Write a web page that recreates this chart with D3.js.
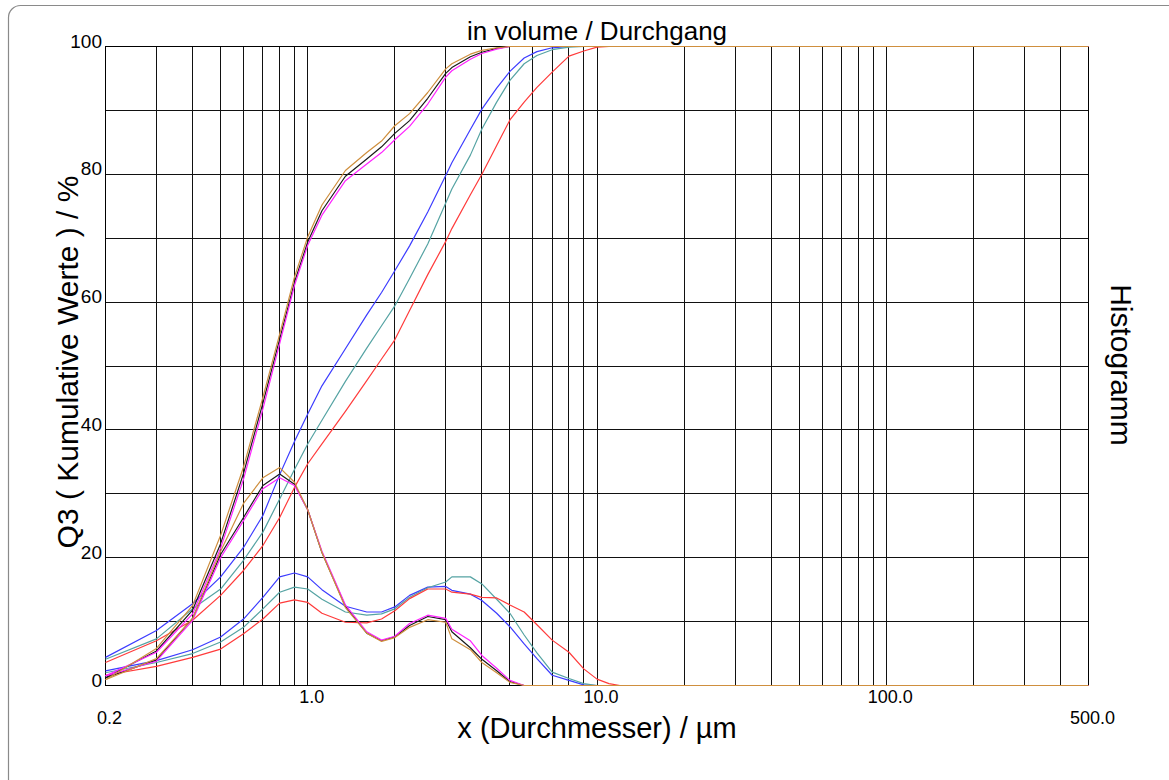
<!DOCTYPE html>
<html>
<head>
<meta charset="utf-8">
<script src="https://cdn.jsdelivr.net/npm/d3@7/dist/d3.min.js"></script>
<style>
  html, body { margin: 0; padding: 0; background: #fff; }
  svg { display: block; }
  text { font-family: "Liberation Sans", Arial, sans-serif; fill: #000; }
</style>
</head>
<body>
<svg id="chart" width="1169" height="780"></svg>
<script>
// ---------- data ----------
const classes = [0.2,0.3,0.4,0.5,0.6,0.7,0.8,0.9,1.0,1.12,1.35,1.6,1.8,2.0,2.25,2.6,3.0,3.15,3.65,4.0,4.5,5.0,5.6,6.2,7.0,8.0,9.0,10,11,12,500];

const cumBlue    = [4.4,8.6,12.8,17.0,21.6,26.6,33.0,38.2,42.5,46.9,52.7,58.0,61.5,64.9,68.8,74.1,79.8,81.8,87.0,90.2,93.5,96.1,98.2,99.2,99.8,100,100,100,100,100,100];
const cumTeal    = [4.1,7.3,12.0,15.1,19.6,24.0,29.2,33.8,37.8,41.5,47.6,52.8,56.3,59.4,63.7,69.1,75.5,77.7,83.0,87.1,91.3,94.7,97.3,98.6,99.5,99.9,100,100,100,100,100];
const cumRed     = [3.6,7.0,10.2,14.1,18.0,21.9,26.3,31.0,34.7,37.8,42.9,47.7,51.1,54.1,58.7,64.3,69.5,71.5,76.8,80.0,84.5,88.5,91.3,93.6,96.0,98.5,99.3,99.9,100,100,100];
const cumBlack   = [1.2,5.4,11.8,22.2,33.2,44.2,54.2,63.1,69.4,74.3,79.7,82.4,84.3,86.4,88.4,91.9,95.8,96.7,98.4,99.1,99.7,100,100,100,100,100,100,100,100,100,100];
const cumMagenta = [1.5,5.2,11.2,21.5,32.3,43.3,53.5,62.6,68.9,73.6,79.0,81.6,83.4,85.4,87.5,91.0,95.2,96.2,98.0,98.9,99.6,100,100,100,100,100,100,100,100,100,100];
const cumOrange  = [0.9,5.8,12.5,23.5,34.2,45.1,55.0,63.9,70.2,75.2,80.6,83.4,85.2,87.6,89.5,92.8,96.5,97.3,98.8,99.4,99.8,100,100,100,100,100,100,100,100,100,100];

const histBlue    = [2.3,3.9,5.6,7.6,10.4,13.8,17.0,17.6,17.0,15.0,12.4,11.5,11.5,12.3,14.1,15.4,15.5,14.9,14.3,13.3,11.3,9.2,6.5,4.2,1.6,0.8,0.1,0,0,0,0];
const histTeal    = [2.0,3.6,5.0,6.8,9.1,12.0,14.6,15.4,15.1,13.5,11.5,11.0,11.2,12.0,13.8,15.3,16.2,17.0,17.0,15.9,13.5,11.3,7.9,5.1,2.1,1.1,0.3,0,0,0,0];
const histRed     = [1.6,3.0,4.4,5.7,8.1,10.4,12.9,13.4,13.0,11.3,9.9,9.8,10.4,11.7,13.6,15.1,15.1,14.6,14.3,13.8,13.7,12.6,11.5,9.5,7.1,5.2,2.6,1.0,0.3,0,0];
const histBlack   = [1.2,4.0,10.5,20.5,26.3,31.3,33.1,31.5,27.5,20.8,12.4,8.2,7.0,7.6,9.4,10.8,10.3,8.4,5.9,4.1,2.3,0.6,0,0,0,0,0,0,0,0,0];
const histMagenta = [1.5,3.8,10.2,20.0,25.8,30.8,32.5,31.3,27.5,21.0,12.6,8.4,7.1,7.7,9.7,11.0,10.5,8.8,7.0,4.7,2.7,0.8,0,0,0,0,0,0,0,0,0];
const histOrange  = [0.9,4.2,10.5,21.0,28.5,32.5,34.1,31.8,27.5,20.8,12.2,8.2,6.9,7.5,9.1,10.3,9.9,7.3,5.6,3.6,2.0,0.5,0,0,0,0,0,0,0,0,0];

const xTickValues = [0.2, 1, 10, 100, 500];
const xTickLabels = ["0.2", "1.0", "10.0", "100.0", "500.0"];
const yTickValues = [0, 20, 40, 60, 80, 100];
const yTickLabels = ["0", "20", "40", "60", "80", "100"];

const titleText = "in volume / Durchgang";
const xTitle = "x (Durchmesser) / µm";
const yTitle = "Q3 ( Kumulative Werte ) / %";
const y2Title = "Histogramm";

// ---------- drawing ----------
const svg = d3.select("#chart");
const x = d3.scaleLog().domain([0.2, 500]).range([105.5, 1088.5]);
const y = d3.scaleLinear().domain([0, 100]).range([685.5, 46.5]);

// outer rounded frame
svg.append("rect").attr("x", 8.5).attr("y", 5.5).attr("width", 1200).attr("height", 820)
  .attr("rx", 12).attr("fill", "none").attr("stroke", "#8a8a8a").attr("stroke-width", 1.2);

const grid = svg.append("g").attr("stroke", "#111").attr("stroke-width", 1);
const xGridVals = x.ticks().filter(v => v > 0.2 && v < 500);
grid.selectAll("line.vx").data(xGridVals).join("line")
  .attr("x1", d => Math.floor(x(d)) + 0.5).attr("x2", d => Math.floor(x(d)) + 0.5)
  .attr("y1", y(100)).attr("y2", y(0));
grid.selectAll("line.hy").data(d3.range(10, 100, 10)).join("line")
  .attr("y1", d => Math.floor(y(d)) + 0.5).attr("y2", d => Math.floor(y(d)) + 0.5)
  .attr("x1", x(0.2)).attr("x2", x(500));
// frame
svg.append("rect").attr("x", x(0.2)).attr("y", y(100))
  .attr("width", x(500) - x(0.2)).attr("height", y(0) - y(100))
  .attr("fill", "none").attr("stroke", "#000").attr("stroke-width", 1);

// series
const series = [
  {c: "#3c3cff", cum: cumBlue, hist: histBlue},
  {c: "#55a3a3", cum: cumTeal, hist: histTeal},
  {c: "#ff3b3b", cum: cumRed, hist: histRed},
  {c: "#1a1a1a", cum: cumBlack, hist: histBlack},
  {c: "#ff22ff", cum: cumMagenta, hist: histMagenta},
  {c: "#cf8f3e", cum: cumOrange, hist: histOrange}
];
const line = d3.line().x(d => x(d[0])).y(d => y(d[1]));
const lg = svg.append("g").attr("fill", "none").attr("stroke-width", 1.2).attr("stroke-linejoin", "round");
series.forEach(s => {
  lg.append("path").attr("d", line(classes.map((c, i) => [c, s.hist[i]]))).attr("stroke", s.c);
  lg.append("path").attr("d", line(classes.map((c, i) => [c, s.cum[i]]))).attr("stroke", s.c);
});

// tick labels
const tl = svg.append("g");
tl.selectAll("text.y").data(yTickValues).join("text")
  .attr("font-size", 19)
  .attr("x", 102).attr("y", d => y(d) + 1).attr("text-anchor", "end")
  .text((d, i) => yTickLabels[i]);
tl.selectAll("text.x").data(xTickValues).join("text")
  .attr("font-size", 18)
  .attr("x", d => x(d) + 4)
  .attr("y", (d, i) => (i === 0 || i === xTickValues.length - 1) ? 724 : 703)
  .attr("text-anchor", "middle")
  .text((d, i) => xTickLabels[i]);

// titles
svg.append("text").attr("x", 597).attr("y", 40).attr("text-anchor", "middle")
  .attr("font-size", 26).text(titleText);
svg.append("text").attr("x", 597).attr("y", 738).attr("text-anchor", "middle")
  .attr("font-size", 29).text(xTitle);
svg.append("text").attr("transform", "translate(78,362) rotate(-90)").attr("text-anchor", "middle")
  .attr("font-size", 30).text(yTitle);
svg.append("text").attr("transform", "translate(1111,365) rotate(90)").attr("text-anchor", "middle")
  .attr("font-size", 30).text(y2Title);
</script>
</body>
</html>
